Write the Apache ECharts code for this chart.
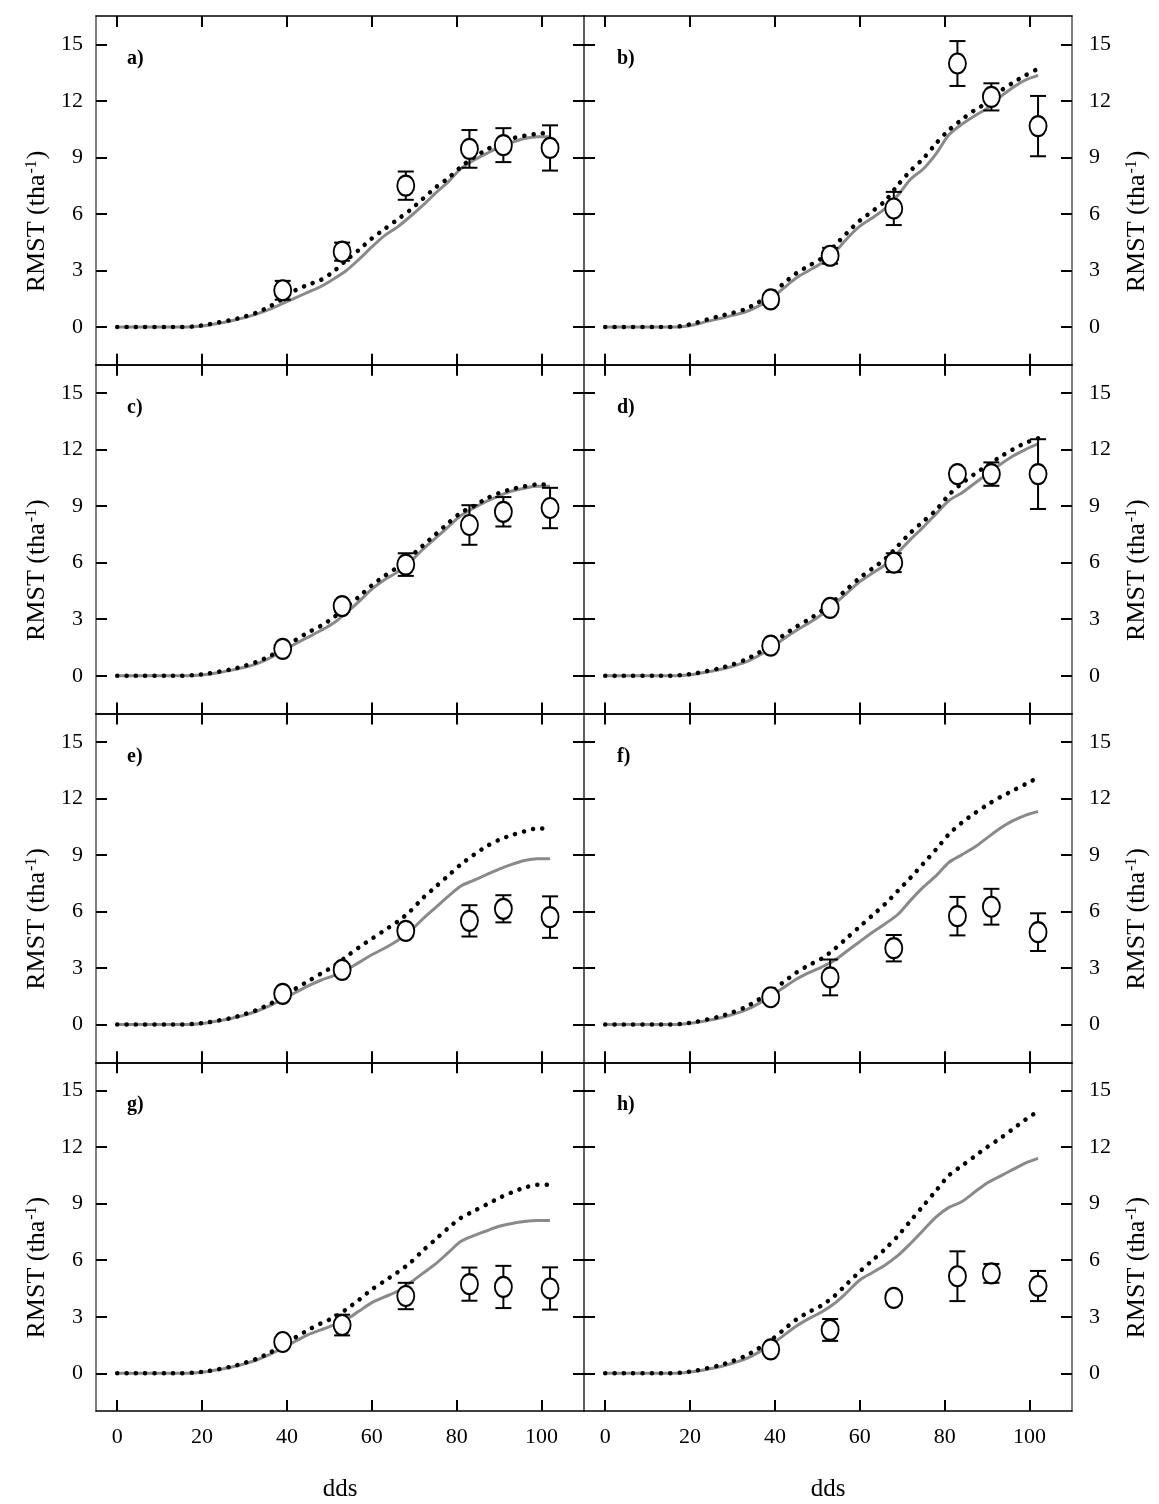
<!DOCTYPE html>
<html>
<head>
<meta charset="utf-8">
<script src="https://cdn.jsdelivr.net/npm/echarts@6/dist/echarts.min.js"></script>
<style>
html, body { margin: 0; padding: 0; background: #fff; }
#chart { width: 1159px; height: 1504px; }
</style>
</head>
<body>
<div id="chart"></div>
<script>
// Days after sowing for the simulated curves
const dds = [0,3,6,9,12,15,18,21,24,27,30,33,36,39,42,45,48,51,54,57,60,63,66,69,72,75,78,81,84,87,90,93,96,99,102];
// Sampling dates of the field measurements
const obsDds = [39,53,68,83,91,102];
const xTicks = [0,20,40,60,80,100];
const yTicks = [0,3,6,9,12,15];

// Panel a
const simDotA  = [0,0,0,0,0,0,0.03,0.12,0.25,0.38,0.55,0.78,1.1,1.5,1.95,2.25,2.5,2.95,3.55,4.1,4.7,5.2,5.7,6.2,6.8,7.4,7.9,8.5,9.0,9.4,9.75,10.0,10.15,10.25,10.3];
const simLineA = [0,0,0,0,0,0,0.02,0.08,0.2,0.33,0.5,0.7,0.95,1.25,1.55,1.85,2.15,2.55,3.0,3.6,4.25,4.85,5.3,5.85,6.45,7.1,7.7,8.4,8.85,9.2,9.55,9.8,10.0,10.1,10.1];
const obsA = [1.95,4.0,7.5,9.45,9.65,9.5];
const errA = [0.5,0.48,0.75,1.0,0.9,1.2];
// Panel b
const simDotB  = [0,0,0,0,0,0,0.05,0.2,0.4,0.58,0.75,0.95,1.3,1.7,2.3,2.85,3.25,3.65,4.3,5.0,5.65,6.15,6.7,7.55,8.3,8.95,9.75,10.45,11.0,11.5,11.9,12.5,12.95,13.35,13.7];
const simLineB = [0,0,0,0,0,0,0.02,0.12,0.3,0.45,0.62,0.8,1.1,1.5,2.05,2.6,3.0,3.4,3.95,4.7,5.35,5.8,6.3,7.0,7.85,8.4,9.2,10.2,10.75,11.2,11.6,12.2,12.7,13.1,13.35];
const obsB = [1.47,3.78,6.29,13.98,12.21,10.66];
const errB = [0.3,0.42,0.88,1.19,0.72,1.6];
// Panel c
const simDotC  = [0,0,0,0,0,0,0.03,0.1,0.22,0.35,0.52,0.75,1.05,1.45,1.9,2.3,2.65,3.1,3.65,4.2,4.8,5.3,5.75,6.3,6.9,7.5,8.1,8.65,9.0,9.4,9.7,9.9,10.05,10.15,10.15];
const simLineC = [0,0,0,0,0,0,0.02,0.07,0.18,0.3,0.45,0.65,0.95,1.3,1.7,2.05,2.4,2.8,3.35,3.95,4.6,5.1,5.5,6.05,6.7,7.3,7.9,8.5,8.9,9.25,9.55,9.8,9.95,10.05,10.05];
const obsC = [1.43,3.7,5.9,8.0,8.7,8.9];
const errC = [0.2,0.3,0.6,1.05,0.78,1.07];
// Panel d
const simDotD  = [0,0,0,0,0,0,0.04,0.12,0.25,0.4,0.6,0.85,1.2,1.65,2.15,2.6,3.0,3.45,4.0,4.6,5.2,5.7,6.2,6.9,7.6,8.2,8.8,9.6,10.2,10.7,11.15,11.6,12.0,12.35,12.6];
const simLineD = [0,0,0,0,0,0,0.02,0.08,0.2,0.33,0.5,0.72,1.05,1.45,1.95,2.4,2.8,3.25,3.8,4.4,5.0,5.45,5.9,6.55,7.25,7.9,8.6,9.3,9.7,10.2,10.7,11.2,11.65,12.0,12.3];
const obsD = [1.6,3.6,6.0,10.7,10.7,10.7];
const errD = [0.2,0.25,0.5,0.3,0.62,1.85];
// Panel e
const simDotE  = [0,0,0,0,0,0,0.03,0.1,0.22,0.35,0.55,0.78,1.1,1.45,1.9,2.3,2.7,3.1,3.6,4.1,4.55,5.0,5.45,6.0,6.7,7.3,7.9,8.5,9.0,9.45,9.8,10.05,10.25,10.4,10.4];
const simLineE = [0,0,0,0,0,0,0.02,0.08,0.2,0.33,0.5,0.72,1.0,1.35,1.7,2.05,2.35,2.6,2.9,3.3,3.7,4.05,4.45,4.95,5.6,6.2,6.8,7.35,7.65,7.95,8.25,8.5,8.7,8.8,8.8];
const obsE = [1.63,2.9,4.97,5.5,6.14,5.7];
const errE = [0.25,0.3,0.3,0.83,0.72,1.1];
// Panel f
const simDotF  = [0,0,0,0,0,0,0.04,0.13,0.27,0.43,0.65,0.92,1.3,1.75,2.25,2.75,3.15,3.5,4.0,4.6,5.2,5.8,6.4,7.1,7.8,8.55,9.3,10.1,10.7,11.2,11.65,12.05,12.4,12.75,13.1];
const simLineF = [0,0,0,0,0,0,0.02,0.09,0.21,0.35,0.53,0.76,1.1,1.5,1.95,2.4,2.75,3.05,3.4,3.9,4.4,4.9,5.35,5.85,6.6,7.3,7.9,8.6,9.0,9.4,9.9,10.4,10.8,11.1,11.3];
const obsF = [1.45,2.5,4.05,5.75,6.25,4.9];
const errF = [0.3,0.95,0.7,1.02,0.95,1.0];
// Panel g
const simDotG  = [0,0,0,0,0,0,0.03,0.1,0.22,0.36,0.55,0.78,1.1,1.45,1.9,2.3,2.65,2.95,3.4,3.9,4.45,4.9,5.35,5.85,6.5,7.1,7.7,8.25,8.6,8.95,9.3,9.6,9.85,10.0,10.0];
const simLineG = [0,0,0,0,0,0,0.02,0.08,0.2,0.33,0.5,0.72,1.0,1.35,1.7,2.05,2.3,2.55,2.85,3.3,3.75,4.05,4.35,4.8,5.3,5.8,6.4,7.0,7.3,7.55,7.8,7.95,8.05,8.1,8.1];
const obsG = [1.66,2.56,4.1,4.73,4.58,4.5];
const errG = [0.25,0.55,0.7,0.88,1.12,1.12];
// Panel h
const simDotH  = [0,0,0,0,0,0,0.04,0.13,0.27,0.43,0.65,0.92,1.3,1.75,2.3,2.85,3.25,3.6,4.1,4.75,5.4,6.0,6.6,7.3,8.1,8.9,9.7,10.5,11.0,11.5,12.0,12.45,12.95,13.45,13.9];
const simLineH = [0,0,0,0,0,0,0.02,0.09,0.21,0.35,0.53,0.76,1.1,1.5,2.0,2.5,2.9,3.25,3.7,4.3,4.95,5.35,5.75,6.25,6.9,7.6,8.3,8.8,9.1,9.6,10.1,10.45,10.8,11.15,11.4];
const obsH = [1.27,2.3,4.0,5.15,5.3,4.63];
const errH = [0.2,0.58,0.3,1.32,0.5,0.8];

const panels = [
  { label: 'a)', dot: simDotA, line: simLineA, obs: obsA, err: errA },
  { label: 'b)', dot: simDotB, line: simLineB, obs: obsB, err: errB },
  { label: 'c)', dot: simDotC, line: simLineC, obs: obsC, err: errC },
  { label: 'd)', dot: simDotD, line: simLineD, obs: obsD, err: errD },
  { label: 'e)', dot: simDotE, line: simLineE, obs: obsE, err: errE },
  { label: 'f)', dot: simDotF, line: simLineF, obs: obsF, err: errF },
  { label: 'g)', dot: simDotG, line: simLineG, obs: obsG, err: errG },
  { label: 'h)', dot: simDotH, line: simLineH, obs: obsH, err: errH }
];

const FONT = 'Liberation Serif';
const PANEL_W = 488, PANEL_H = 348.75, TOP0 = 16;
const LEFTS = [96, 584];

const grids = [], xAxes = [], yAxes = [], series = [], graphics = [];

const tickStyle = { color: '#000', width: 2 };
const yName = 'RMST (tha{s|-1})';
// the extra right padding moves the rotated title a little towards the bottom of the panel
const yNameStyle = {
  fontFamily: FONT, fontSize: 26, color: '#000', padding: [0, 62, 0, 0],
  rich: { s: { fontFamily: FONT, fontSize: 16, color: '#000', verticalAlign: 'top', padding: [0, 1, 0, 1] } }
};

panels.forEach((p, i) => {
  const col = i % 2, row = Math.floor(i / 2);
  const left = LEFTS[col];
  const top = TOP0 + row * PANEL_H;
  const isBottom = row === 3;
  grids.push({ left: left, top: top, width: PANEL_W, height: PANEL_H });

  const xBase = {
    gridIndex: i, type: 'value', min: -5, max: 110,
    splitLine: { show: false },
    axisLine: { show: true, onZero: false, lineStyle: { color: '#000', width: 1.5 } },
    axisTick: { show: true, inside: true, length: 11, customValues: xTicks, lineStyle: tickStyle }
  };
  xAxes.push(Object.assign({}, xBase, {
    position: 'bottom',
    axisLabel: { show: isBottom, customValues: xTicks, fontFamily: FONT, fontSize: 22, color: '#000', margin: 15 },
    name: isBottom ? 'dds' : '', nameLocation: 'middle', nameGap: 66,
    nameTextStyle: { fontFamily: FONT, fontSize: 25, color: '#000' }
  }));
  xAxes.push(Object.assign({}, xBase, {
    position: 'top',
    axisLabel: { show: false, customValues: xTicks }
  }));

  const yBase = {
    gridIndex: i, type: 'value', min: -2, max: 16.5,
    splitLine: { show: false },
    axisLine: { show: true, onZero: false, lineStyle: { color: '#555', width: 1.5 } },
    axisTick: { show: true, inside: true, length: 11, customValues: yTicks, lineStyle: tickStyle }
  };
  yAxes.push(Object.assign({}, yBase, {
    position: 'left',
    axisLabel: { show: col === 0, customValues: yTicks, fontFamily: FONT, fontSize: 22, color: '#000', margin: 13 },
    name: col === 0 ? yName : '', nameLocation: 'middle', nameGap: 46, nameTextStyle: yNameStyle
  }));
  yAxes.push(Object.assign({}, yBase, {
    position: 'right',
    axisLabel: { show: col === 1, customValues: yTicks, fontFamily: FONT, fontSize: 22, color: '#000', margin: 17 },
    name: col === 1 ? yName : '', nameLocation: 'middle', nameGap: 52, nameTextStyle: yNameStyle
  }));

  const xi = 2 * i, yi = 2 * i;

  // simulated curve (solid grey)
  series.push({
    type: 'line', xAxisIndex: xi, yAxisIndex: yi, z: 2,
    data: dds.map((d, k) => [d, p.line[k]]),
    showSymbol: false, smooth: 0.3, silent: true,
    lineStyle: { color: '#8a8a8a', width: 3 }
  });
  // simulated curve (black dots)
  series.push({
    type: 'line', xAxisIndex: xi, yAxisIndex: yi, z: 3,
    data: dds.map((d, k) => [d, p.dot[k]]),
    showSymbol: false, smooth: 0.3, silent: true,
    lineStyle: { color: '#000', width: 4.5, type: [0.1, 9.2], cap: 'round' }
  });
  // error bars of the measurements
  series.push({
    type: 'custom', xAxisIndex: xi, yAxisIndex: yi, z: 4, silent: true,
    data: obsDds.map((d, k) => [d, p.obs[k] - p.err[k], p.obs[k] + p.err[k]]),
    renderItem: function (params, api) {
      const x = api.value(0);
      const lo = api.coord([x, api.value(1)]);
      const hi = api.coord([x, api.value(2)]);
      const hw = 8;
      const st = { stroke: '#000', lineWidth: 2 };
      return {
        type: 'group',
        children: [
          { type: 'line', shape: { x1: lo[0], y1: lo[1], x2: hi[0], y2: hi[1] }, style: st },
          { type: 'line', shape: { x1: hi[0] - hw, y1: hi[1], x2: hi[0] + hw, y2: hi[1] }, style: st },
          { type: 'line', shape: { x1: lo[0] - hw, y1: lo[1], x2: lo[0] + hw, y2: lo[1] }, style: st }
        ]
      };
    }
  });
  // measured means
  series.push({
    type: 'scatter', xAxisIndex: xi, yAxisIndex: yi, z: 5, silent: true,
    data: obsDds.map((d, k) => [d, p.obs[k]]),
    symbol: 'circle', symbolSize: [17, 20],
    itemStyle: { color: '#fff', opacity: 1, borderColor: '#000', borderWidth: 2 }
  });

  graphics.push({
    type: 'text', x: left + (col === 0 ? 31 : 33), y: top + 43,
    style: { text: p.label, fontFamily: FONT, fontSize: 20, fontWeight: 'bold', fill: '#000', verticalAlign: 'middle' }
  });
});

const chart = echarts.init(document.getElementById('chart'), null, { renderer: 'canvas' });
chart.setOption({
  animation: false,
  backgroundColor: '#fff',
  grid: grids,
  xAxis: xAxes,
  yAxis: yAxes,
  series: series,
  graphic: graphics
});
</script>
</body>
</html>
